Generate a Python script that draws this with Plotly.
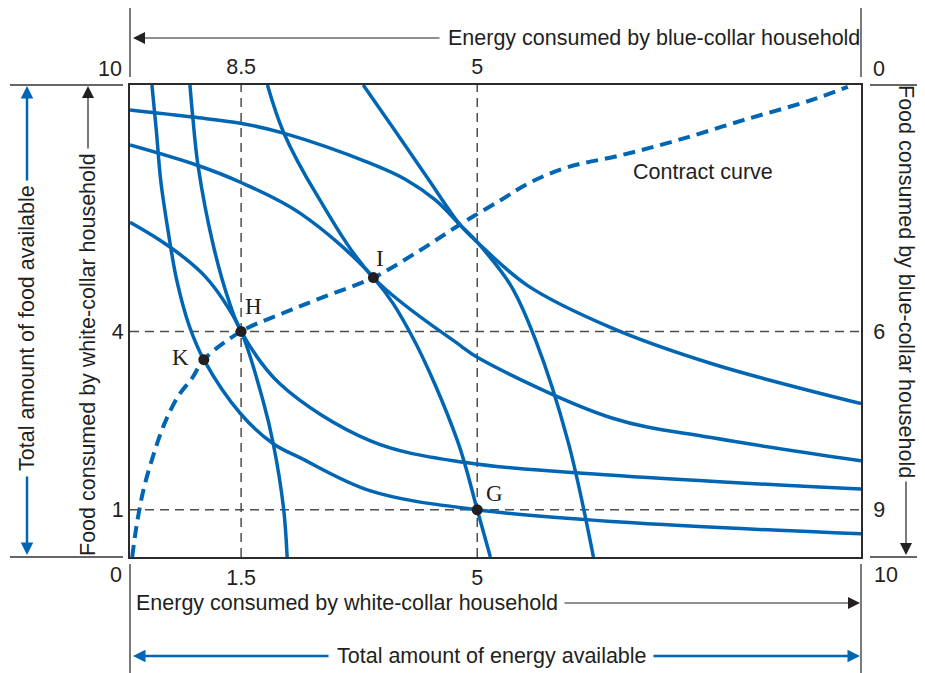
import plotly.graph_objects as go

# Edgeworth box: both axes run 0..10 across the box (schematic, as in the textbook figure)

# white-collar household indifference curves (convex to bottom-left origin)
wc1_x = [0.30, 0.36, 0.42, 0.52, 0.64, 0.81, 1.01, 1.51, 1.96, 2.33, 3.29, 4.75, 6.71, 10.0]
wc1_y = [10.0, 9.04, 7.98, 6.92, 5.86, 4.90, 4.18, 3.04, 2.40, 2.10, 1.40, 1.00, 0.74, 0.49]
wc2_x = [0.82, 0.86, 0.93, 1.14, 1.36, 1.52, 2.05, 3.29, 4.59, 6.71, 10.0]
wc2_y = [10.0, 9.30, 8.30, 6.60, 5.39, 4.78, 3.67, 2.46, 2.00, 1.72, 1.44]
wc3_x = [1.88, 2.10, 2.56, 3.33, 4.52, 4.75, 6.58, 7.95, 10.0]
wc3_y = [10.0, 9.00, 7.66, 5.92, 4.48, 4.23, 2.95, 2.53, 2.04]
wc4_x = [3.19, 3.60, 4.07, 4.52, 4.75, 5.44, 6.58, 7.95, 10.0]
wc4_y = [10.0, 9.09, 8.03, 7.03, 6.67, 5.75, 4.86, 4.10, 3.25]

# blue-collar household indifference curves (convex to top-right origin)
bc1_x = [0.0, 0.86, 1.51, 2.10, 3.29, 3.77, 4.18, 4.52, 4.75, 5.21, 5.55, 5.99, 6.34]
bc1_y = [9.47, 9.32, 9.19, 8.98, 8.34, 8.00, 7.56, 7.03, 6.67, 5.75, 4.59, 2.46, 0.0]
bc2_x = [0.0, 0.92, 1.51, 2.33, 3.33, 3.84, 4.48, 4.75, 4.93]
bc2_y = [8.73, 8.30, 7.94, 7.28, 5.92, 4.73, 2.46, 1.00, 0.0]
bc3_x = [0.0, 0.41, 0.75, 1.03, 1.26, 1.52, 1.82, 1.96, 2.10, 2.15]
bc3_y = [7.09, 6.71, 6.33, 5.94, 5.48, 4.78, 3.31, 2.40, 1.04, 0.0]

# contract curve
cc_x = [0.03, 0.10, 0.19, 0.32, 0.47, 0.66, 0.85, 1.01, 1.52, 2.05, 2.60, 3.33, 3.97, 4.52,
        5.07, 5.48, 5.99, 6.71, 7.49, 8.40, 9.32, 9.82]
cc_y = [0.0, 0.76, 1.46, 2.16, 2.82, 3.41, 3.79, 4.18, 4.78, 5.14, 5.48, 5.92, 6.50, 7.05,
        7.56, 7.94, 8.26, 8.51, 8.83, 9.26, 9.68, 9.96]

# labelled allocations
pt_names = ["K", "H", "I", "G"]
pt_x = [1.01, 1.52, 3.33, 4.75]
pt_y = [4.18, 4.78, 5.92, 1.00]

# dashed guides and their tick labels
guide_x = [1.52, 4.75]
guide_y = [1.00, 4.78]
bottom_ticks = ["1.5", "5"]
top_ticks = ["8.5", "5"]
left_ticks = ["1", "4"]
right_ticks = ["9", "6"]

BLUE = "#0066b3"
INK = "#231f20"
SANS = "Liberation Sans, Arial, sans-serif"
SERIF = "Liberation Serif, Times New Roman, serif"
FS = 21.5

# pixel box of the plot area (page pixels), used only for the decorations outside it
L, R, T, B = 130, 861, 85, 557
PAGE = 8  # body margin of the html page


def px(p):
    return (p - L) / (R - L)


def py(p):
    return (B - p) / (B - T)


fig = go.Figure()

for gx in guide_x:
    fig.add_trace(go.Scatter(x=[gx, gx], y=[0, 10], mode="lines",
                             line=dict(color="#4d4d4d", width=1.5, dash="9px,6px")))
for gy in guide_y:
    fig.add_trace(go.Scatter(x=[0, 10], y=[gy, gy], mode="lines",
                             line=dict(color="#4d4d4d", width=1.5, dash="9px,6px")))

curves = [(wc1_x, wc1_y), (wc2_x, wc2_y), (wc3_x, wc3_y), (wc4_x, wc4_y),
          (bc1_x, bc1_y), (bc2_x, bc2_y), (bc3_x, bc3_y)]
for cx, cy in curves:
    fig.add_trace(go.Scatter(x=cx, y=cy, mode="lines",
                             line=dict(color=BLUE, width=3.5, shape="spline", smoothing=1.0)))

fig.add_trace(go.Scatter(x=cc_x, y=cc_y, mode="lines",
                         line=dict(color=BLUE, width=4, dash="12px,7px", shape="spline", smoothing=1.0)))

fig.add_trace(go.Scatter(x=pt_x, y=pt_y, mode="markers",
                         marker=dict(color=INK, size=11)))

# invisible trace so the top/right axes are drawn
fig.add_trace(go.Scatter(x=[0], y=[0], xaxis="x2", yaxis="y2", mode="markers",
                         marker=dict(opacity=0)))

# point labels
label_shift = {"K": (-23, 2), "H": (12, 25), "I": (7, 19), "G": (17, 16)}
for name, x, y in zip(pt_names, pt_x, pt_y):
    dx, dy = label_shift[name]
    fig.add_annotation(x=x, y=y, text=name, showarrow=False, xshift=dx, yshift=dy,
                       xanchor="center", yanchor="middle",
                       font=dict(family=SERIF, size=23, color=INK))


def label(text, x, y, angle=0, anchor="center"):
    fig.add_annotation(x=px(x), y=py(y), xref="paper", yref="paper", text=text,
                       showarrow=False, textangle=angle, xanchor=anchor, yanchor="middle",
                       font=dict(family=SANS, size=FS, color=INK))


def arrow(tail, head, color, width, size):
    fig.add_annotation(x=px(head[0]), y=py(head[1]), xref="paper", yref="paper",
                       ax=tail[0] - head[0], ay=tail[1] - head[1], text="",
                       showarrow=True, arrowhead=2, arrowsize=size, arrowwidth=width,
                       arrowcolor=color)


label("Contract curve", 703, 172)

# corner labels
for text, x, y in [("10", 110, 69), ("0", 879, 69), ("0", 116, 575), ("10", 886, 575)]:
    label(text, x, y)

# thin frame lines outside the box
frame = [(L, 8, L, 77), (R, 8, R, 77), (10, T, 123, T), (10, B, 123, B),
         (870, T, 925, T), (870, B, 925, B), (L, 564, L, 673), (R, 564, R, 673)]
for x0, y0, x1, y1 in frame:
    fig.add_shape(type="line", xref="paper", yref="paper",
                  x0=px(x0), y0=py(y0), x1=px(x1), y1=py(y1),
                  line=dict(color="#333333", width=1.3))

# top: blue-collar energy
arrow((441, 38), (133, 38), INK, 1.2, 2)
label("Energy consumed by blue-collar household", 446, 38, anchor="left")
# bottom: white-collar energy
arrow((563, 603), (860, 603), INK, 1.2, 2)
label("Energy consumed by white-collar household", 134, 603, anchor="left")
# left: white-collar food
arrow((88, 150), (88, 86), INK, 1.2, 2)
label("Food consumed by white-collar household", 88, 355, angle=-90)
# right: blue-collar food
arrow((906, 480), (906, 555), INK, 1.2, 2)
label("Food consumed by blue-collar household", 906, 281, angle=90)
# totals (blue double arrows)
arrow((27, 182), (27, 86), BLUE, 2.5, 1)
arrow((27, 475), (27, 555), BLUE, 2.5, 1)
label("Total amount of food available", 27, 328, angle=-90)
arrow((330, 656), (133, 656), BLUE, 2.5, 1)
arrow((652, 656), (860, 656), BLUE, 2.5, 1)
label("Total amount of energy available", 492, 656)

axis_common = dict(range=[0, 10], showgrid=False, zeroline=False, showline=True,
                   linecolor="#2b2b2b", linewidth=2, ticks="",
                   tickfont=dict(family=SANS, size=FS, color=INK))

W, H = 925 - PAGE, 673 - PAGE
fig.update_layout(
    width=W, height=H,
    margin=dict(l=L - PAGE, r=W - (R - PAGE), t=T - PAGE, b=H - (B - PAGE)),
    paper_bgcolor="white", plot_bgcolor="white",
    showlegend=False,
    xaxis=dict(axis_common, tickvals=guide_x, ticktext=bottom_ticks, mirror=True),
    yaxis=dict(axis_common, tickvals=guide_y, ticktext=left_ticks, mirror=True),
    xaxis2=dict(axis_common, tickvals=guide_x, ticktext=top_ticks, overlaying="x", side="top"),
    yaxis2=dict(axis_common, tickvals=guide_y, ticktext=right_ticks, overlaying="y", side="right",
                ticklabelstandoff=6),
)

fig.write_html("out.html")
